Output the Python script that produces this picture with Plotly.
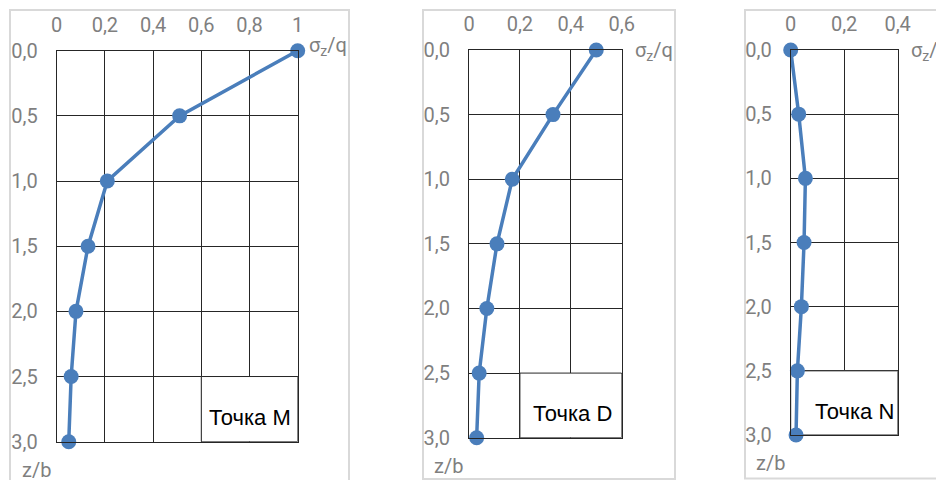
import plotly.graph_objects as go

# ---- data ----
z_over_b = [0.0, 0.5, 1.0, 1.5, 2.0, 2.5, 3.0]
sigma_M = [1.0, 0.51, 0.21, 0.13, 0.08, 0.06, 0.05]
sigma_D = [0.50, 0.33, 0.17, 0.11, 0.07, 0.04, 0.03]
sigma_N = [0.0, 0.03, 0.055, 0.05, 0.04, 0.025, 0.02]
panel_names = ["Точка M", "Точка D", "Точка N"]
x_max = [1.0, 0.6, 0.4]
y_tickvals = [0.0, 0.5, 1.0, 1.5, 2.0, 2.5, 3.0]
y_ticktext = ["0,0", "0,5", "1,0", "1,5", "2,0", "2,5", "3,0"]
x_tickvals = [0.0, 0.2, 0.4, 0.6, 0.8, 1.0]
x_ticktext = ["0", "0,2", "0,4", "0,6", "0,8", "1"]
x_axis_title = "σ<sub>z</sub>/q"
y_axis_title = "z/b"

# ---- layout geometry (pixels) ----
W, H = 936, 480
plot_px = [  # left, right, top, bottom
    (56.7, 297.7, 50.7, 441.7),
    (469.0, 621.7, 50.0, 437.7),
    (790.7, 897.6, 50.0, 435.0),
]
frame_px = [
    (10, 349, 10, 484),
    (423, 675, 10, 479),
    (745, 940, 10, 478.5),
]
box_x0 = [0.6, 0.2, 0.0]
label_pos = [(0.804, 2.815), (0.405, 2.815), (0.24, 2.82)]
title_shift = [(9, 5), (11, -1), (11, -1)]

LINE = "#4a7ebb"
GRID = "#262626"
TICK = "#7f7f7f"
TICK_FONT = dict(family="Roboto, Liberation Sans, Arial", size=20, color=TICK)

series = [sigma_M, sigma_D, sigma_N]

fig = go.Figure()
layout = dict(
    width=W, height=H,
    margin=dict(l=0, r=0, t=0, b=0, pad=0, autoexpand=False),
    paper_bgcolor="white", plot_bgcolor="white",
    showlegend=False,
    shapes=[], annotations=[],
)

for i in range(3):
    n = "" if i == 0 else str(i + 1)
    xa, ya = "x" + n, "y" + n
    l, r, t, b = plot_px[i]
    fig.add_trace(go.Scatter(
        x=series[i], y=z_over_b, xaxis=xa, yaxis=ya,
        mode="lines+markers",
        line=dict(color=LINE, width=3.5),
        marker=dict(color=LINE, size=15),
        cliponaxis=False,
        hoverinfo="skip",
    ))
    xt = [v for v in x_tickvals if v <= x_max[i] + 1e-9]
    layout["xaxis" + n] = dict(
        domain=[l / W, r / W], anchor=ya, side="top",
        range=[0, x_max[i]], tickvals=xt,
        ticktext=x_ticktext[:len(xt)],
        showgrid=True, gridcolor=GRID, gridwidth=1,
        showline=True, linecolor=GRID, linewidth=1, mirror=True,
        zeroline=False, ticks="", tickfont=TICK_FONT,
        ticklabelstandoff=10, fixedrange=True, automargin=False,
    )
    layout["yaxis" + n] = dict(
        domain=[1 - b / H, 1 - t / H], anchor=xa,
        range=[3, 0], tickvals=y_tickvals, ticktext=y_ticktext,
        showgrid=True, gridcolor=GRID, gridwidth=1,
        showline=True, linecolor=GRID, linewidth=1, mirror=True,
        zeroline=False, ticks="", tickfont=TICK_FONT,
        ticklabelstandoff=14, fixedrange=True, automargin=False,
    )
    # outer light-gray chart frame
    fl, fr, ft, fb = frame_px[i]
    layout["shapes"].append(dict(
        type="rect", xref="paper", yref="paper",
        x0=fl / W, x1=fr / W, y0=1 - fb / H, y1=1 - ft / H,
        line=dict(color="#d9d9d9", width=2), fillcolor="rgba(0,0,0,0)",
        layer="below",
    ))
    # white label box over the grid
    layout["shapes"].append(dict(
        type="rect", xref=xa, yref=ya,
        x0=box_x0[i], x1=x_max[i], y0=2.5, y1=3.0,
        line=dict(color=GRID, width=1), fillcolor="white",
        layer="between",
    ))
    lx, ly = label_pos[i]
    layout["annotations"].append(dict(
        xref=xa, yref=ya, x=lx, y=ly, text=panel_names[i],
        showarrow=False, xanchor="center", yanchor="middle",
        font=dict(family="Liberation Sans, Arial", size=22, color="#000000"),
    ))
    sx, sy = title_shift[i]
    layout["annotations"].append(dict(
        xref=xa + " domain", yref=ya + " domain", x=1, y=1,
        xshift=sx, yshift=sy, text=x_axis_title,
        showarrow=False, xanchor="left", yanchor="middle",
        font=TICK_FONT,
    ))
    layout["annotations"].append(dict(
        xref=xa + " domain", yref=ya + " domain", x=0, y=0,
        xshift=-4, yshift=-28, text=y_axis_title,
        showarrow=False, xanchor="right", yanchor="middle",
        font=TICK_FONT,
    ))

fig.update_layout(**layout)
fig.write_html("out.html", config={"displayModeBar": False},
               post_script="document.body.style.margin='0';")
